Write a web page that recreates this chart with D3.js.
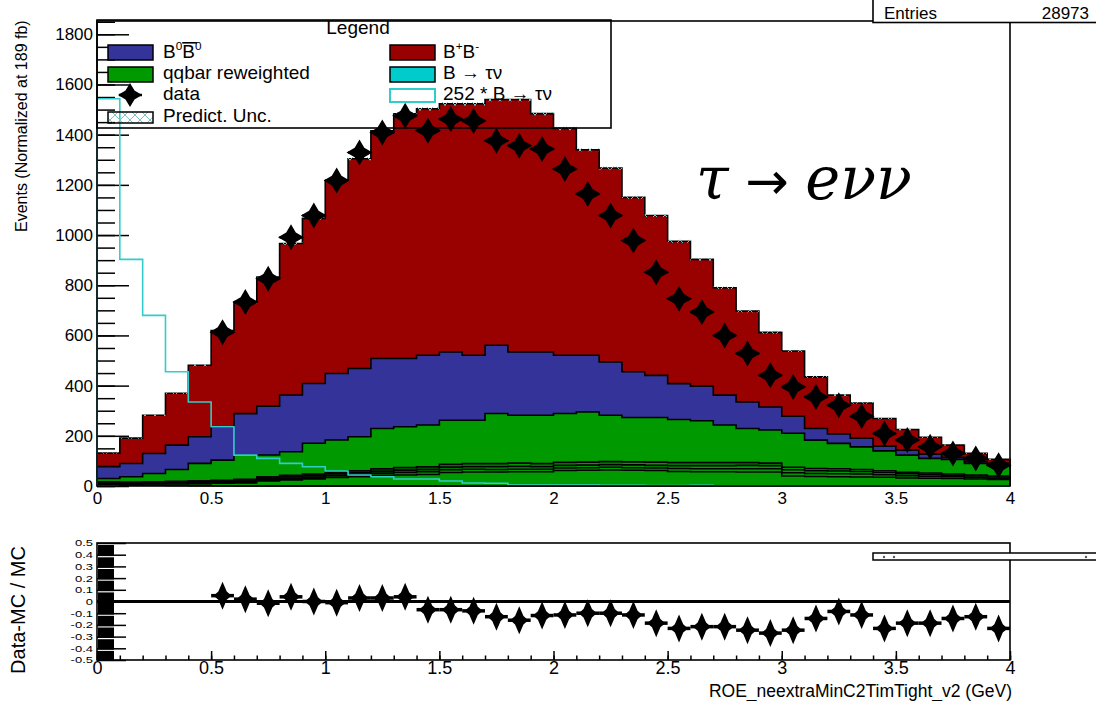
<!DOCTYPE html>
<html>
<head>
<meta charset="utf-8">
<script src="https://cdn.jsdelivr.net/npm/d3@7"></script>
<style>
  html, body { margin: 0; padding: 0; background: #fff; }
  svg { display: block; }
  text { font-family: "Liberation Sans", Arial, Helvetica, sans-serif; fill: #000; }
</style>
</head>
<body>
<svg id="chart" width="1096" height="701"></svg>
<script>
// ---- binning: 40 bins of width 0.1 GeV between 0 and 4 ----
const binLow = [0.0,0.1,0.2,0.3,0.4,0.5,0.6,0.7,0.8,0.9,1.0,1.1,1.2,1.3,1.4,1.5,1.6,1.7,1.8,1.9,
                2.0,2.1,2.2,2.3,2.4,2.5,2.6,2.7,2.8,2.9,3.0,3.1,3.2,3.3,3.4,3.5,3.6,3.7,3.8,3.9];
const binWidth = 0.1;

// ---- MC components (events per bin) ----
// B -> tau nu signal, shown scaled by 252 as an outline; the stacked fill uses the unscaled yield
const signalScale = 252;
const tauNuScaled = [1543,903,680,455,335,236,123,110,90,77,60,44,37,28,28,20,12,11,4,4,
                     4,4,3,3,2,2,3,1,1,1,0,0,0,0,0,0,0,0,0,0];
// continuum (qqbar reweighted) sub-samples
const qqA = [3,4,5,6,8,10,12,20,24,28,34,37,42,44,46,54,56,56,57,57,
             62,63,64,63,62,58,57,57,56,56,40,38,37,36,35,32,31,30,28,26];
const qqB = [3,3,3,4,4,4,5,6,6,7,7,8,9,10,11,11,11,10,10,10,
             10,10,11,10,10,12,12,12,13,13,13,12,12,12,10,9,8,7,6,5];
const qqC = [2,2,3,3,3,4,4,5,6,6,7,7,8,9,9,10,10,11,11,10,
             10,10,10,11,10,11,12,12,13,12,12,11,11,10,9,8,7,6,6,5];
const qqD = [3,3,3,4,4,4,5,5,6,6,7,8,9,10,10,11,12,12,13,12,
             12,12,12,12,13,12,12,12,11,10,10,9,9,8,7,6,6,5,4,4];
const qqMain = [13,21,33,47,70,80,96,87,94,123,128,136,161,163,167,176,173,200,191,193,
                195,200,185,177,178,172,167,150,136,132,135,113,101,90,79,68,58,58,46,43];
// neutral and charged B pairs
const b0b0 = [47,53,80,97,106,133,166,195,226,238,265,272,279,272,278,272,259,272,252,252,
              232,226,212,182,168,143,138,119,106,92,68,46,37,34,19,20,17,8,7,7];
const bpbm = [54,101,152,207,285,384,444,514,604,658,769,836,907,975,982,989,1002,979,1006,950,
              904,819,773,695,637,567,505,428,362,297,260,206,155,141,110,82,67,49,33,16];
// prediction uncertainty (half width)
const predUnc = [2,2,3,3,4,4,5,5,5,6,6,6,6,7,7,7,7,7,7,7,
                 7,6,6,6,6,6,5,5,5,5,4,4,4,3,3,3,3,2,2,2];

// ---- data ----
const dataCounts = [null,null,null,null,null,613,733,826,991,1078,1217,1329,1409,1475,1416,1462,1455,1376,1356,1343,
                    1263,1164,1078,978,852,746,693,600,528,441,395,355,322,278,209,183,156,130,110,83];
const dataOverMC = [null,null,null,null,null,0.05,0.02,-0.015,0.04,0.0,-0.01,0.03,0.03,0.04,-0.07,-0.07,-0.08,-0.13,-0.16,-0.12,
                    -0.115,-0.10,-0.10,-0.115,-0.185,-0.23,-0.215,-0.215,-0.245,-0.27,-0.245,-0.145,-0.085,-0.115,-0.23,-0.185,-0.185,-0.145,-0.13,-0.23];

// ---- axis ticks ----
const yMajorTicks = [0,200,400,600,800,1000,1200,1400,1600,1800];
const xMajorTicks = [0,0.5,1,1.5,2,2.5,3,3.5,4];
const ratioTicks = [-0.5,-0.4,-0.3,-0.2,-0.1,0,0.1,0.2,0.3,0.4,0.5];

const colors = {
  signal: "#00cccc", qqA: "#009900", qqB: "#009900", qqC: "#009900", qqD: "#009900",
  qqMain: "#009900", b0b0: "#333399", bpbm: "#990000"
};
const keys = ["signal","qqA","qqB","qqC","qqD","qqMain","b0b0","bpbm"];

const svg = d3.select("#chart");

// ================= main pad =================
const x = d3.scaleLinear().domain([0, 4]).range([97, 1010]);
const y = d3.scaleLinear().domain([0, 1853]).range([486, 21]);

// axis ticks (drawn first; histograms sit on top of them)
const yMinor = d3.range(0, 1851, 50);
svg.append("g").attr("transform", "translate(97,0)")
  .call(d3.axisLeft(y).tickValues(yMinor).tickSize(-18).tickFormat(""))
  .call(g => g.select(".domain").remove())
  .selectAll("line").attr("stroke", "#000").attr("stroke-width", 1.5);
svg.append("g").attr("transform", "translate(97,0)")
  .call(d3.axisLeft(y).tickValues(yMajorTicks).tickSize(-32).tickPadding(4).tickFormat(d3.format("d")))
  .call(g => g.select(".domain").remove())
  .call(g => g.selectAll("line").attr("stroke", "#000").attr("stroke-width", 1.5))
  .call(g => g.selectAll("text").attr("font-size", 17).style("font-family", "Liberation Sans, Arial, sans-serif"));

svg.append("g").attr("transform", "translate(0,486)")
  .call(d3.axisBottom(x).tickValues(xMajorTicks).tickSize(0).tickPadding(6).tickFormat(d3.format("~g")))
  .call(g => g.select(".domain").remove())
  .call(g => g.selectAll("text").attr("font-size", 17).style("font-family", "Liberation Sans, Arial, sans-serif"));

// stacked histograms
const rows = binLow.map((lo, i) => ({
  lo,
  signal: tauNuScaled[i] / signalScale,
  qqA: qqA[i], qqB: qqB[i], qqC: qqC[i], qqD: qqD[i], qqMain: qqMain[i],
  b0b0: b0b0[i], bpbm: bpbm[i]
}));
const series = d3.stack().keys(keys)(rows);

function stepPts(vals) {
  const pts = [];
  vals.forEach((v, i) => { pts.push([binLow[i], v]); pts.push([binLow[i] + binWidth, v]); });
  return pts;
}
const stepArea = d3.area().x(d => x(d[0])).y0(y(0)).y1(d => y(d[1]));
const stepLine = d3.line().x(d => x(d[0])).y(d => y(d[1]));

const histG = svg.append("g");
series.slice().reverse().forEach(s => {
  const tops = s.map(d => d[1]);
  const pts = stepPts(tops);
  histG.append("path").attr("d", stepArea(pts)).attr("fill", colors[s.key]);
  const outline = [[0, 0], ...pts, [4, 0]];
  histG.append("path").attr("d", stepLine(outline)).attr("fill", "none")
    .attr("stroke", "#000").attr("stroke-width", 1.6);
});

// prediction uncertainty band (hatched)
const defs = svg.append("defs");
const pat = defs.append("pattern").attr("id", "xhatch").attr("patternUnits", "userSpaceOnUse")
  .attr("width", 10).attr("height", 10);
pat.append("path").attr("d", "M0,0L10,10M10,0L0,10").attr("stroke", "#7fc4c4").attr("stroke-width", 1);
const totals = series[series.length - 1].map(d => d[1]);
histG.selectAll("rect.unc").data(binLow).join("rect").attr("class", "unc")
  .attr("x", d => x(d)).attr("width", x(binWidth) - x(0))
  .attr("y", (d, i) => y(totals[i] + predUnc[i]))
  .attr("height", (d, i) => y(totals[i] - predUnc[i]) - y(totals[i] + predUnc[i]))
  .attr("fill", "url(#xhatch)");

// scaled signal outline
svg.append("path").attr("d", stepLine([[0, 0], ...stepPts(tauNuScaled), [4, 0]]))
  .attr("fill", "none").attr("stroke", "#33cccc").attr("stroke-width", 1.6);

// data markers
function starPath(cx, cy, rx, ry, r) {
  return `M${cx},${cy - ry}L${cx + r},${cy - r}L${cx + rx},${cy}L${cx + r},${cy + r}L${cx},${cy + ry}` +
         `L${cx - r},${cy + r}L${cx - rx},${cy}L${cx - r},${cy - r}Z`;
}
const dataG = svg.append("g");
dataCounts.forEach((v, i) => {
  if (v === null) return;
  const cx = x(binLow[i] + binWidth / 2), cy = y(v);
  dataG.append("line").attr("x1", x(binLow[i])).attr("x2", x(binLow[i] + binWidth))
    .attr("y1", cy).attr("y2", cy).attr("stroke", "#000").attr("stroke-width", 2.5);
  dataG.append("path").attr("d", starPath(cx, cy, 13, 13, 4.8)).attr("fill", "#000");
});

// frame
svg.append("rect").attr("x", 97).attr("y", 21).attr("width", 913).attr("height", 465)
  .attr("fill", "none").attr("stroke", "#000").attr("stroke-width", 1.6);

// y title
svg.append("text").attr("transform", "translate(27,232) rotate(-90)")
  .attr("font-size", 16).attr("text-anchor", "start").text("Events (Normalized at 189 fb)");

// statistics box
svg.append("rect").attr("x", 873).attr("y", -3).attr("width", 240).attr("height", 25.5)
  .attr("fill", "#fff").attr("stroke", "#000").attr("stroke-width", 1.6);
svg.append("text").attr("x", 884).attr("y", 19).attr("font-size", 17).text("Entries");
svg.append("text").attr("x", 1089).attr("y", 19).attr("font-size", 17).attr("text-anchor", "end").text("28973");

// channel annotation
const ann = svg.append("text").attr("x", 696).attr("y", 199).attr("font-size", 59)
  .style("font-family", "'DejaVu Serif', 'Liberation Serif', serif");
ann.append("tspan").attr("font-style", "italic").text("τ");
ann.append("tspan").style("font-family", "'DejaVu Sans', sans-serif").attr("font-size", 52).text(" → ");
ann.append("tspan").attr("font-style", "italic").text("eνν");

// ---- legend ----
const leg = svg.append("g");
leg.append("rect").attr("x", 97).attr("y", 20).attr("width", 514).attr("height", 108)
  .attr("fill", "none").attr("stroke", "#000").attr("stroke-width", 1.6);
leg.append("text").attr("x", 358).attr("y", 34).attr("text-anchor", "middle").attr("font-size", 19).text("Legend");

function richLabel(g, x0, y0, parts, size) {
  let cx = x0;
  parts.forEach(p => {
    const fs = p.sup ? size * 0.62 : size;
    const dy = p.sup ? -size * 0.42 : 0;
    const t = g.append("text").attr("x", cx).attr("y", y0 + dy).attr("font-size", fs).text(p.t);
    const w = t.node().getComputedTextLength();
    if (p.bar) {
      g.append("line").attr("x1", cx).attr("x2", cx + w + 2)
        .attr("y1", y0 - size * 0.8).attr("y2", y0 - size * 0.8)
        .attr("stroke", "#000").attr("stroke-width", 1.6);
    }
    cx += w;
  });
}
const LS = 19;
// left column
leg.append("rect").attr("x", 108).attr("y", 45).attr("width", 45).attr("height", 15)
  .attr("fill", colors.b0b0).attr("stroke", "#000").attr("stroke-width", 1.5);
richLabel(leg, 163, 58, [{t: "B"}, {t: "0", sup: true}, {t: "B", bar: true}, {t: "0", sup: true}], LS);
leg.append("rect").attr("x", 108).attr("y", 67).attr("width", 45).attr("height", 15)
  .attr("fill", colors.qqMain).attr("stroke", "#000").attr("stroke-width", 1.5);
leg.append("text").attr("x", 163).attr("y", 79).attr("font-size", LS).text("qqbar reweighted");
leg.append("line").attr("x1", 119).attr("x2", 142).attr("y1", 95).attr("y2", 95)
  .attr("stroke", "#000").attr("stroke-width", 2.5);
leg.append("path").attr("d", starPath(130, 95, 12, 12, 4.5)).attr("fill", "#000");
leg.append("text").attr("x", 163).attr("y", 100).attr("font-size", LS).text("data");
leg.append("rect").attr("x", 108).attr("y", 112).attr("width", 45).attr("height", 11)
  .attr("fill", "url(#xhatch)").attr("stroke", "#000").attr("stroke-width", 1.5);
leg.append("text").attr("x", 163).attr("y", 122).attr("font-size", LS).text("Predict. Unc.");
// right column
leg.append("rect").attr("x", 390).attr("y", 45).attr("width", 45).attr("height", 15)
  .attr("fill", colors.bpbm).attr("stroke", "#000").attr("stroke-width", 1.5);
richLabel(leg, 443, 58, [{t: "B"}, {t: "+", sup: true}, {t: "B"}, {t: "-", sup: true}], LS);
leg.append("rect").attr("x", 390).attr("y", 67).attr("width", 45).attr("height", 15)
  .attr("fill", colors.signal).attr("stroke", "#000").attr("stroke-width", 1.5);
leg.append("text").attr("x", 443).attr("y", 79).attr("font-size", LS).text("B → τν");
leg.append("rect").attr("x", 390).attr("y", 89).attr("width", 45).attr("height", 13)
  .attr("fill", "#fff").attr("stroke", "#33cccc").attr("stroke-width", 2);
leg.append("text").attr("x", 443).attr("y", 100).attr("font-size", LS).text("252 * B → τν");

// ================= ratio pad =================
const yR = d3.scaleLinear().domain([-0.5, 0.5]).range([660, 543]);
const rG = svg.append("g");

// bar at the first bin, notched at each tick
rG.append("rect").attr("x", 98).attr("y", 545).attr("width", 16).attr("height", 115).attr("fill", "#000");
ratioTicks.slice(1, -1).filter(t => t !== 0).forEach(t =>
  rG.append("line").attr("x1", 98).attr("x2", 114).attr("y1", yR(t) + 2).attr("y2", yR(t) + 2)
    .attr("stroke", "#fff").attr("stroke-width", 1.2));

rG.append("g").attr("transform", "translate(97,0)")
  .call(d3.axisLeft(yR).tickValues(ratioTicks).tickSize(-29).tickPadding(4)
    .tickFormat(d => d === 0 ? "0" : (+d.toFixed(1)).toString()))
  .call(g => g.select(".domain").remove())
  .call(g => g.selectAll("line").attr("stroke", "#000").attr("stroke-width", 1.5))
  .call(g => g.selectAll("text").attr("font-size", 13).attr("transform", "scale(1,0.7)")
    .style("font-family", "Liberation Sans, Arial, sans-serif"));

const xMinorR = d3.range(0, 40.5, 1).map(d => d / 10);
rG.append("g").attr("transform", "translate(0,660)")
  .call(d3.axisBottom(x).tickValues(xMinorR).tickSize(-4.5).tickFormat(""))
  .call(g => g.select(".domain").remove())
  .selectAll("line").attr("stroke", "#000").attr("stroke-width", 1.5);
rG.append("g").attr("transform", "translate(0,660)")
  .call(d3.axisBottom(x).tickValues(xMajorTicks).tickSize(-9).tickPadding(1).tickFormat(d3.format("~g")))
  .call(g => g.select(".domain").remove())
  .call(g => g.selectAll("line").attr("stroke", "#000").attr("stroke-width", 1.5))
  .call(g => g.selectAll("text").attr("font-size", 18).style("font-family", "Liberation Sans, Arial, sans-serif"));

// zero line
rG.append("line").attr("x1", x(0)).attr("x2", x(4)).attr("y1", yR(0)).attr("y2", yR(0))
  .attr("stroke", "#000").attr("stroke-width", 3);

// ratio points
dataOverMC.forEach((v, i) => {
  if (v === null) return;
  const cx = x(binLow[i] + binWidth / 2), cy = yR(v);
  rG.append("line").attr("x1", x(binLow[i])).attr("x2", x(binLow[i] + binWidth))
    .attr("y1", cy).attr("y2", cy).attr("stroke", "#000").attr("stroke-width", 3.5);
  rG.append("path").attr("d", starPath(cx, cy, 9, 14, 4.2)).attr("fill", "#000");
});

// frame
rG.append("rect").attr("x", 97).attr("y", 543).attr("width", 913).attr("height", 117)
  .attr("fill", "none").attr("stroke", "#000").attr("stroke-width", 1.6);

// small statistics strip
rG.append("rect").attr("x", 873).attr("y", 553).attr("width", 240).attr("height", 7)
  .attr("fill", "#fff").attr("stroke", "#000").attr("stroke-width", 1.5);
[884, 894, 1086].forEach(px => rG.append("circle").attr("cx", px).attr("cy", 557).attr("r", 1.2).attr("fill", "#556"));

// titles
rG.append("text").attr("transform", "translate(25,610) rotate(-90)")
  .attr("font-size", 20).attr("text-anchor", "middle").text("Data-MC / MC");
rG.append("text").attr("x", 1012).attr("y", 697).attr("font-size", 17.5).attr("text-anchor", "end")
  .text("ROE_neextraMinC2TimTight_v2 (GeV)");
</script>
</body>
</html>
